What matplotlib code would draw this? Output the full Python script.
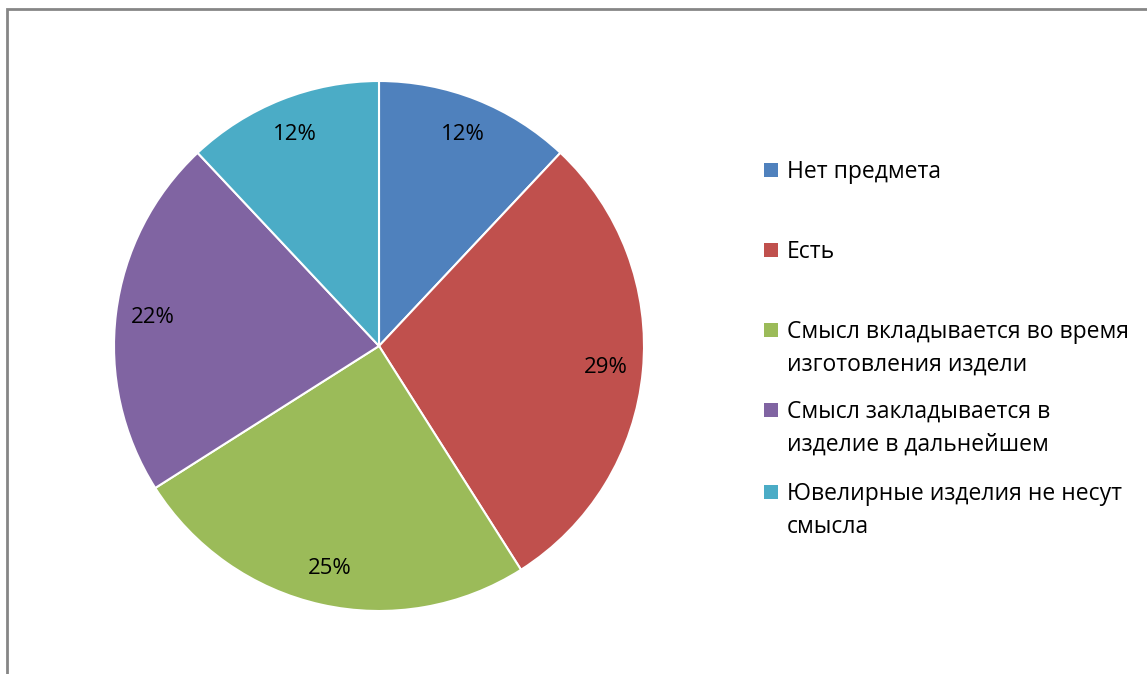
import matplotlib
matplotlib.use('Agg')
import matplotlib.pyplot as plt
from matplotlib.patches import Rectangle

labels = ['Нет предмета', 'Есть', 'Смысл вкладывается во время\nизготовления издели',
          'Смысл закладывается в\nизделие в дальнейшем', 'Ювелирные изделия не несут\nсмысла']
values = [12, 29, 25, 22, 12]
colors = ['#4F81BD', '#C0504D', '#9BBB59', '#8064A2', '#4BACC6']

W, H = 1147, 674
plt.rcParams['font.family'] = ['Open Sans', 'DejaVu Sans']

fig = plt.figure(figsize=(W / 100, H / 100), dpi=100)

# gray frame around the chart area
fig.patches.append(Rectangle((7 / W, -0.1), 1.2, 1 - 9 / H + 0.1, transform=fig.transFigure,
                             fill=False, edgecolor='#868686', linewidth=2))

cx, cy, r = 379, 346, 265
ax = fig.add_axes([(cx - r) / W, (H - cy - r) / H, 2 * r / W, 2 * r / H])
ax.pie(values, colors=colors, startangle=90, counterclock=False,
       autopct='%1.0f%%', pctdistance=0.86,
       wedgeprops=dict(edgecolor='white', linewidth=1.5),
       textprops=dict(fontsize=16, color='black'))
ax.set_xlim(-1, 1)
ax.set_ylim(-1, 1)

# legend drawn by hand so markers line up with the first text line
tops = [170, 250, 330, 410, 492]
for lab, col, y in zip(labels, colors, tops):
    fig.patches.append(Rectangle((764 / W, (H - y - 7) / H), 14 / W, 14 / H,
                                 transform=fig.transFigure, facecolor=col, edgecolor='none'))
    fig.text(787 / W, (H - y + 10) / H, lab, fontsize=16.5, va='top', ha='left',
             linespacing=1.48)

fig.savefig('out.png', dpi=100)
